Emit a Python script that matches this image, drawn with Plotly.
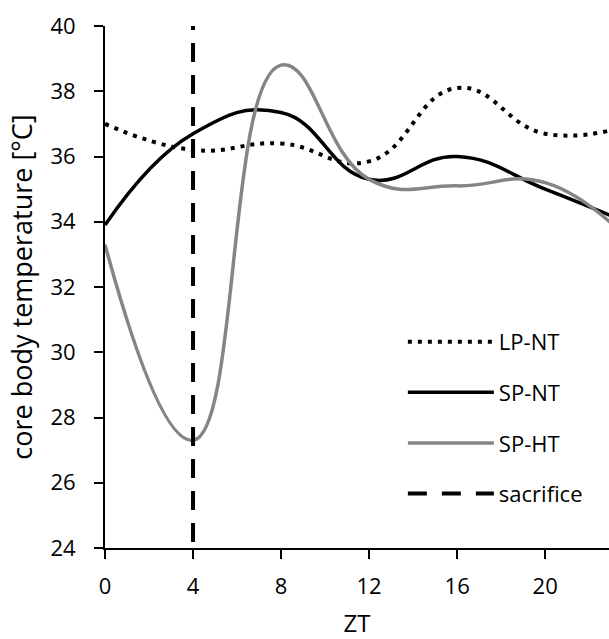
import plotly.graph_objects as go

zt = [0, 4, 8, 12, 16, 20, 24]
lp_nt = [37.0, 36.2, 36.4, 35.85, 38.1, 36.7, 37.0]
sp_nt = [33.9, 36.7, 37.35, 35.3, 36.0, 35.0, 33.9]
sp_ht = [33.3, 27.3, 38.8, 35.3, 35.1, 35.2, 33.3]
sacrifice_x = [4, 4]
sacrifice_y = [40, 24]

FONT = "Open Sans"
SMOOTH = 1.3
VLINE_DASH = ",".join(["4px", "13px"] + ["19px", "13px"] * 17)

fig = go.Figure()
fig.add_trace(go.Scatter(x=zt, y=lp_nt, mode="lines", name="LP-NT",
                         line=dict(color="black", width=4, dash="4px,6px",
                                   shape="spline", smoothing=SMOOTH),
                         legendgroup="a"))
fig.add_trace(go.Scatter(x=zt, y=sp_nt, mode="lines", name="SP-NT",
                         line=dict(color="black", width=3.5, shape="spline", smoothing=SMOOTH),
                         legendgroup="b"))
fig.add_trace(go.Scatter(x=zt, y=sp_ht, mode="lines", name="SP-HT",
                         line=dict(color="#858585", width=3.5, shape="spline", smoothing=SMOOTH),
                         legendgroup="c"))
fig.add_trace(go.Scatter(x=sacrifice_x, y=sacrifice_y, mode="lines", name="sacrifice",
                         line=dict(color="black", width=4, dash=VLINE_DASH),
                         showlegend=False, legendgroup="d"))
fig.add_trace(go.Scatter(x=[None], y=[None], mode="lines", name="sacrifice",
                         line=dict(color="black", width=4, dash="19px,15px"),
                         legendgroup="d"))

fig.update_layout(
    width=609, height=639,
    margin=dict(l=105, r=0, t=26, b=91),
    plot_bgcolor="white", paper_bgcolor="white",
    font=dict(family=FONT, size=22, color="black"),
    showlegend=True,
    legend=dict(x=0.591, y=0.435, xanchor="left", yanchor="top",
                bgcolor="rgba(0,0,0,0)", itemwidth=86, tracegroupgap=19,
                traceorder="grouped", font=dict(size=22)),
    xaxis=dict(range=[0, 22.9], tickvals=[0, 4, 8, 12, 16, 20], showgrid=False,
               zeroline=False, showline=True, linecolor="black", linewidth=2,
               ticks="outside", ticklen=9, tickcolor="black", tickwidth=2,
               ticklabelstandoff=9,
               title=dict(text="ZT", standoff=18, font=dict(size=24))),
    yaxis=dict(range=[24, 40], tickvals=[24, 26, 28, 30, 32, 34, 36, 38, 40], showgrid=False,
               zeroline=False, showline=True, linecolor="black", linewidth=2,
               ticks="outside", ticklen=9, tickcolor="black", tickwidth=2,
               ticklabelstandoff=14,
               title=dict(text="core body temperature [°C]", standoff=10, font=dict(size=27))),
)

fig.write_html("out.html", config={"displayModeBar": False},
               post_script="document.body.style.margin='0px';")
